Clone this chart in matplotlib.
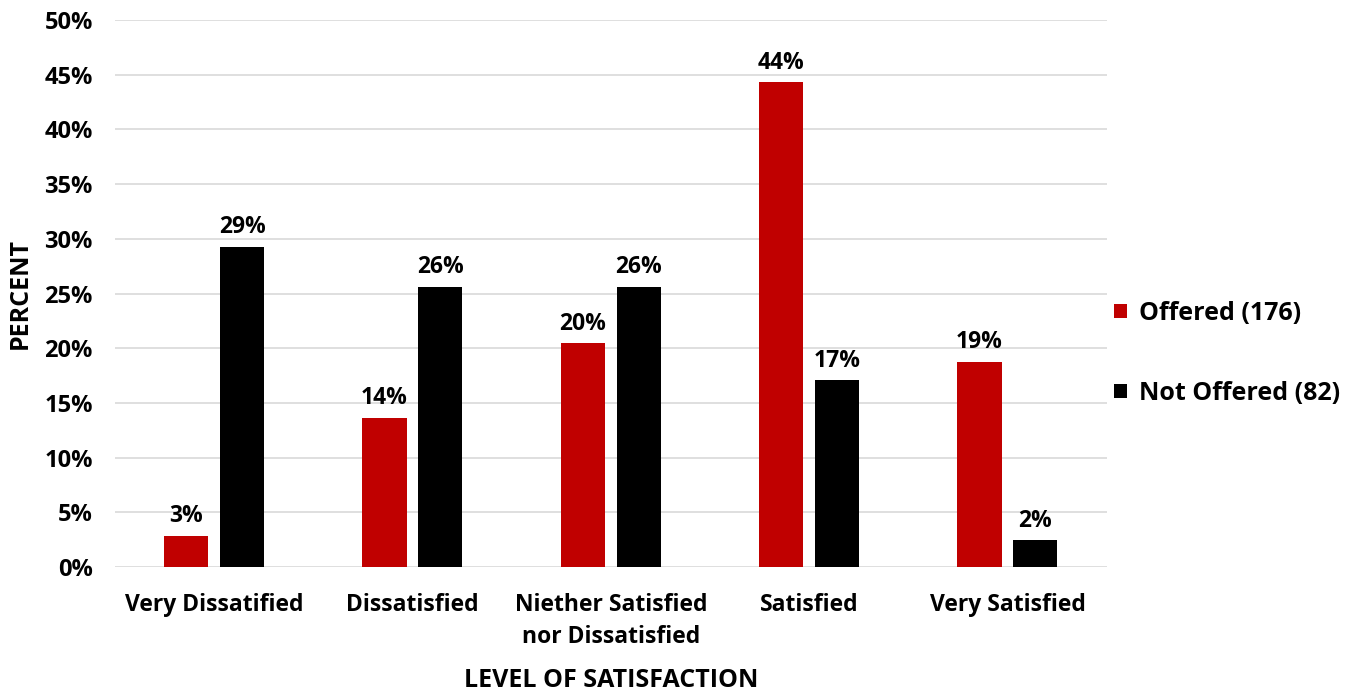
import numpy as np
import matplotlib.pyplot as plt

plt.rcParams['font.family'] = ['Open Sans', 'DejaVu Sans']
plt.rcParams['font.weight'] = 'bold'

categories = ['Very Dissatified', 'Dissatisfied', 'Niether Satisfied\nnor Dissatisfied',
              'Satisfied', 'Very Satisfied']
# respondent counts per satisfaction level
offered_counts = [5, 24, 36, 78, 33]
not_offered_counts = [24, 21, 21, 14, 2]
offered_n = 176
not_offered_n = 82

offered = np.array(offered_counts) / offered_n * 100
not_offered = np.array(not_offered_counts) / not_offered_n * 100

red = '#c00000'
black = '#000000'

fig = plt.figure(figsize=(13.64, 6.92), dpi=100)
ax = fig.add_axes([0.0843, 0.1806, 0.727, 0.7904])

x = np.arange(len(categories))
w = 0.222
off = 0.141
b1 = ax.bar(x - off, offered, w, color=red, label='Offered (176)', zorder=3)
b2 = ax.bar(x + off, not_offered, w, color=black, label='Not Offered (82)', zorder=3)

for bars, vals in [(b1, offered), (b2, not_offered)]:
    for b, v in zip(bars, vals):
        ax.text(b.get_x() + b.get_width() / 2, v + 0.7, f'{v:.0f}%',
                ha='center', va='bottom', fontsize=16.5, fontweight='bold')

ax.set_xlim(-0.5, 4.5)
ax.set_ylim(0, 50)
ax.set_yticks(np.arange(0, 51, 5))
ax.set_yticklabels([f'{t}%' for t in range(0, 51, 5)], fontsize=17, fontweight='bold')
ax.set_xticks(x)
ax.set_xticklabels(categories, fontsize=16.5, fontweight='bold', linespacing=1.4)
ax.tick_params(length=0)
ax.tick_params(axis='x', pad=19)
ax.tick_params(axis='y', pad=16)
ax.grid(axis='y', color='#d9d9d9', linewidth=1.2, zorder=0)
for s in ax.spines.values():
    s.set_visible(False)

ax.set_ylabel('PERCENT', fontsize=18, fontweight='bold', labelpad=8)
ax.set_xlabel('LEVEL OF SATISFACTION', fontsize=18, fontweight='bold', labelpad=14)

ax.legend(loc='center left', bbox_to_anchor=(1.0, 0.391), frameon=False,
          fontsize=18, handlelength=0.5, handleheight=0.5, handletextpad=0.5,
          labelspacing=2.2, borderaxespad=0, borderpad=0.3)

fig.savefig('out.png', dpi=100)
